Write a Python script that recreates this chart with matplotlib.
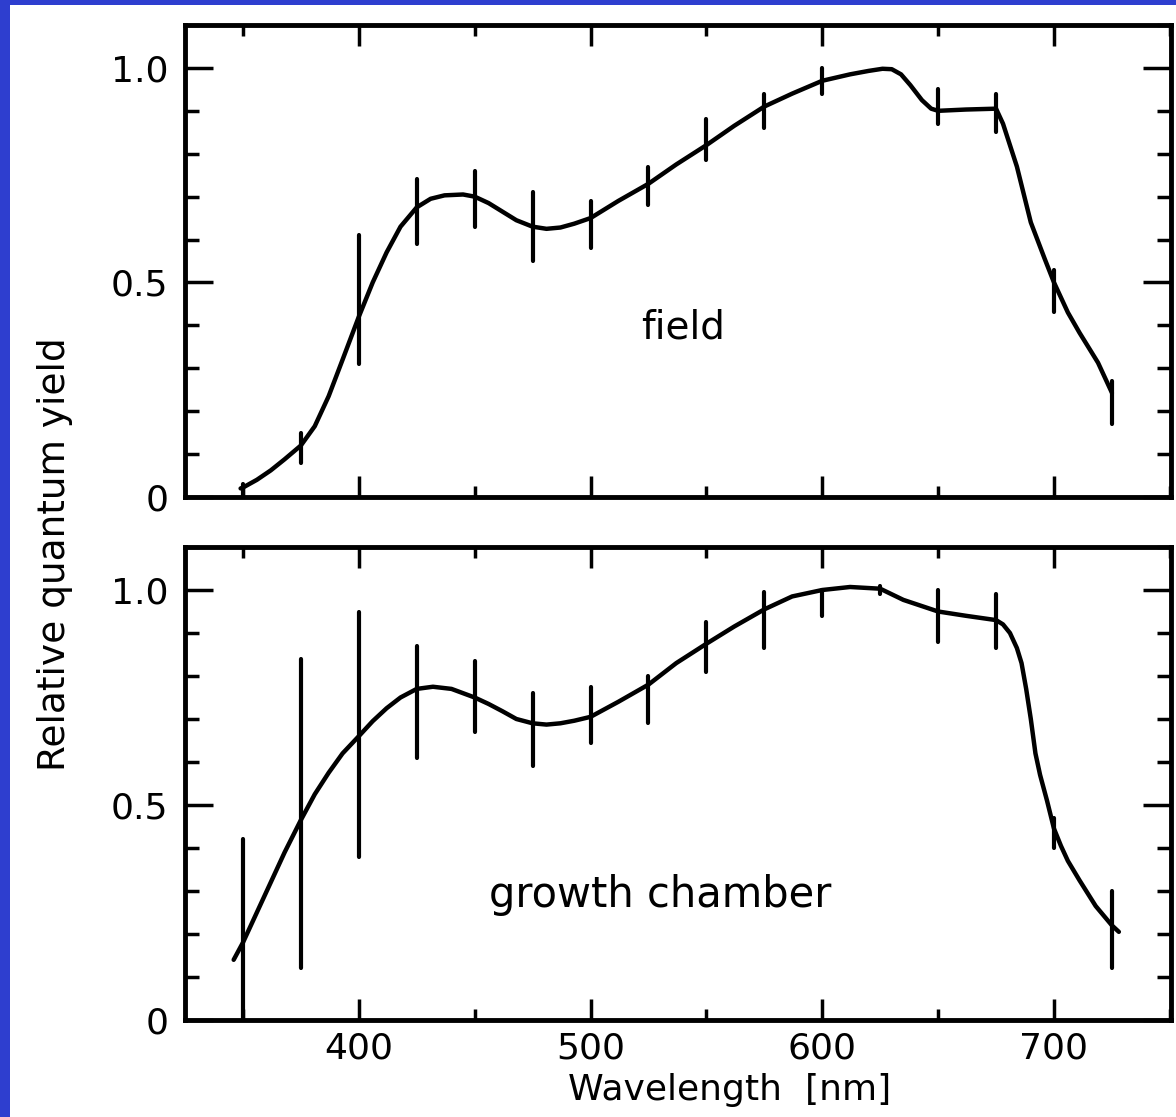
import matplotlib.pyplot as plt
from matplotlib.patches import Rectangle
from matplotlib.ticker import MultipleLocator, FixedLocator, FixedFormatter

# ---- data ----
# hand-drawn curves (wavelength nm, relative quantum yield)
field_wl = [349, 350, 356, 362, 368, 375, 381, 387, 393, 400, 406, 412, 418, 425,
            431, 437, 445, 450, 456, 462, 468, 475, 481, 487, 493, 500, 512, 525,
            537, 550, 562, 575, 587, 600, 612, 620, 626, 630, 634, 638, 643, 647,
            650, 662, 675, 678, 684, 690, 696, 700, 706, 711, 719, 725]
field_y = [0.02, 0.022, 0.04, 0.062, 0.088, 0.12, 0.165, 0.235, 0.32, 0.42, 0.50,
           0.57, 0.63, 0.675, 0.695, 0.703, 0.705, 0.70, 0.685, 0.665, 0.645, 0.63,
           0.625, 0.628, 0.637, 0.65, 0.69, 0.73, 0.775, 0.82, 0.865, 0.91, 0.94,
           0.97, 0.985, 0.993, 0.998, 0.997, 0.985, 0.96, 0.925, 0.905, 0.90,
           0.903, 0.905, 0.87, 0.77, 0.64, 0.555, 0.50, 0.43, 0.383, 0.313, 0.243]

chamber_wl = [346, 350, 356, 362, 368, 375, 381, 387, 393, 400, 406, 412, 418, 425,
              432, 440, 450, 456, 462, 468, 475, 481, 487, 493, 500, 512, 525, 537,
              550, 562, 575, 587, 600, 612, 625, 635, 650, 662, 675, 678, 681, 684,
              686, 688, 690, 692, 694, 697, 700, 703, 706, 711, 718, 725, 728]
chamber_y = [0.14, 0.18, 0.25, 0.32, 0.39, 0.465, 0.525, 0.575, 0.62, 0.66, 0.695,
             0.725, 0.75, 0.77, 0.775, 0.77, 0.75, 0.735, 0.718, 0.70, 0.69, 0.687,
             0.69, 0.696, 0.705, 0.74, 0.78, 0.83, 0.875, 0.915, 0.955, 0.985, 1.0,
             1.007, 1.003, 0.977, 0.95, 0.94, 0.93, 0.92, 0.90, 0.865, 0.83, 0.77,
             0.70, 0.62, 0.57, 0.51, 0.445, 0.405, 0.37, 0.325, 0.265, 0.22, 0.205]

# error bars
field_bar_wl = [350, 375, 400, 425, 450, 475, 500, 525, 550, 575, 600, 650, 675, 700, 725]
field_lo = [0.0, 0.08, 0.31, 0.59, 0.63, 0.55, 0.58, 0.68, 0.785, 0.86, 0.94, 0.87, 0.85, 0.43, 0.17]
field_hi = [0.03, 0.15, 0.61, 0.74, 0.76, 0.71, 0.69, 0.77, 0.88, 0.94, 1.0, 0.95, 0.94, 0.53, 0.27]

chamber_bar_wl = [350, 375, 400, 425, 450, 475, 500, 525, 550, 575, 600, 625, 650, 675, 700, 725]
chamber_lo = [0.0, 0.12, 0.38, 0.61, 0.67, 0.59, 0.645, 0.69, 0.81, 0.865, 0.94, 0.99, 0.88, 0.865, 0.40, 0.12]
chamber_hi = [0.42, 0.84, 0.95, 0.87, 0.835, 0.76, 0.775, 0.80, 0.925, 0.995, 1.0, 1.01, 1.0, 0.99, 0.47, 0.30]

y_ticks = [0, 0.5, 1.0]
y_ticklabels = ["0", "0.5", "1.0"]

W, H = 1176, 1117
fig = plt.figure(figsize=(W / 100, H / 100), dpi=100)
fig.patch.set_facecolor('#2e3ecf')
fig.add_artist(Rectangle((10 / W, 0), 1, 1 - 5 / H, transform=fig.transFigure,
                         facecolor='white', edgecolor='none', zorder=-1))

ax_top = fig.add_axes([185 / W, 1 - 497 / H, 986 / W, 472 / H])
ax_bot = fig.add_axes([185 / W, 1 - 1020 / H, 986 / W, 473 / H])


def style(ax, xlabels):
    ax.set_xlim(325, 750.5)
    ax.set_ylim(0, 1.1)
    for s in ax.spines.values():
        s.set_linewidth(3.5)
    ax.xaxis.set_major_locator(MultipleLocator(100))
    ax.xaxis.set_minor_locator(MultipleLocator(50))
    ax.yaxis.set_major_locator(FixedLocator(y_ticks))
    ax.yaxis.set_major_formatter(FixedFormatter(y_ticklabels))
    ax.yaxis.set_minor_locator(MultipleLocator(0.1))
    ax.tick_params(which='both', direction='in', top=True, right=True, width=2.5)
    ax.tick_params(axis='y', which='major', length=20, labelsize=26, pad=12)
    ax.tick_params(axis='y', which='minor', length=10)
    ax.tick_params(axis='x', which='major', length=15, labelsize=26, pad=8)
    ax.tick_params(axis='x', which='minor', length=8)
    if not xlabels:
        ax.tick_params(axis='x', labelbottom=False)


def panel(ax, wl, y, bwl, lo, hi, label, lx, ly, size):
    ax.plot(wl, y, color='black', lw=3.2, solid_capstyle='round', solid_joinstyle='round')
    ax.vlines(bwl, lo, hi, color='black', lw=3, capstyle='round')
    ax.text(lx, ly, label, fontsize=size, ha='center', va='center')


style(ax_top, False)
style(ax_bot, True)
panel(ax_top, field_wl, field_y, field_bar_wl, field_lo, field_hi, "field", 540, 0.395, 28)
panel(ax_bot, chamber_wl, chamber_y, chamber_bar_wl, chamber_lo, chamber_hi,
      "growth chamber", 530, 0.29, 30)

fig.text(730 / W, 1 - 1090 / H, "Wavelength  [nm]", fontsize=26, ha='center', va='center')
fig.text(55 / W, 1 - 554 / H, "Relative quantum yield", fontsize=27,
         rotation=90, ha='center', va='center')

fig.savefig("out.png", dpi=100, facecolor=fig.get_facecolor())
